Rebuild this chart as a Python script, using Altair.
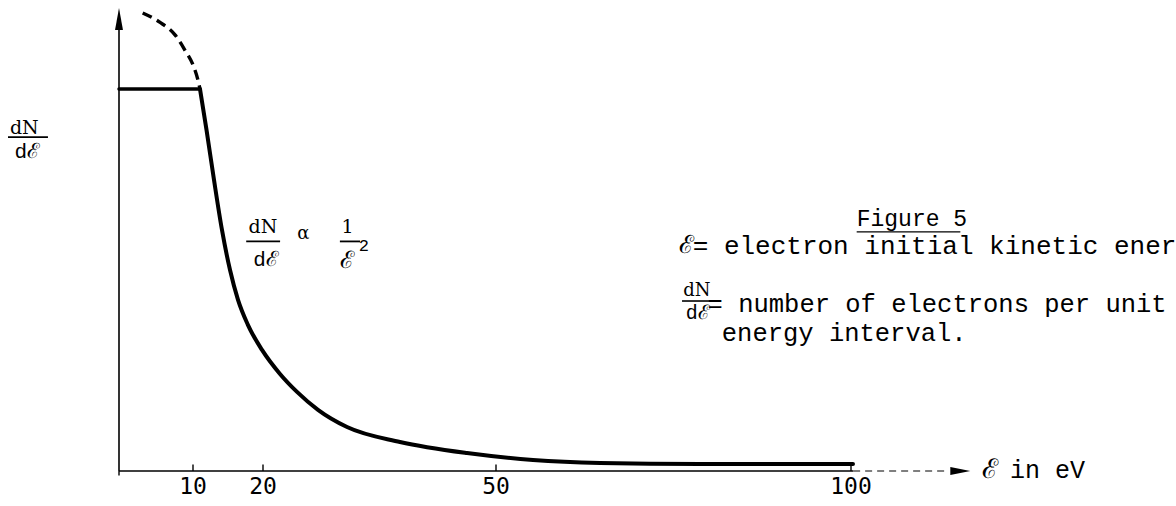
import altair as alt
import pandas as pd

# Electron energy spectrum: flat plateau up to ~11 eV, then a 1/E^2 tail
plateau_energy = [0.0, 11.0]
plateau_level = [1.0, 1.0]

tail_energy = [11.0, 11.93, 13.0, 14.14, 15.29, 16.43, 17.86, 19.86, 22.19, 24.38,
               27.08, 30.82, 37.64, 46.27, 55.21, 64.65, 78.73, 100.28]
tail_level = [1.0, 0.893, 0.762, 0.631, 0.526, 0.448, 0.382, 0.317, 0.254, 0.207,
              0.160, 0.115, 0.076, 0.047, 0.029, 0.021, 0.018, 0.018]

# 1/E^2 continued below the plateau edge (dashed)
extrap_energy = [3.2, 5.5, 7.6, 8.9, 10.0, 10.7, 11.0]
extrap_level = [1.199, 1.175, 1.141, 1.102, 1.063, 1.024, 1.0]

tick_values = [10, 20, 50, 100]
tick_labels = ["10", "20", "50", "100"]

MONO = "Liberation Mono"
GOTHIC = "DejaVu Sans Mono"
SERIF = "DejaVu Serif"
SCRIPT_E = "\u2130"

# hand-drawn energy axis: tick spacing is not perfectly uniform
X = alt.Scale(domain=[0, 10, 20, 50, 100], range=[119, 193, 263, 496, 851],
              nice=False, zero=False)
Y = alt.Scale(domain=[0, 1], range=[471, 89], nice=False, zero=False)


def xe(field="E"):
    return alt.X(f"{field}:Q", scale=X, axis=None)


def yv(field="v"):
    return alt.Y(f"{field}:Q", scale=Y, axis=None)


def line(es, vs, width, dash=None, interp="linear"):
    df = pd.DataFrame({"E": es, "v": vs})
    kw = dict(color="black", strokeWidth=width, interpolate=interp, strokeCap="round")
    if dash:
        kw["strokeDash"] = dash
        kw["strokeCap"] = "butt"
    return alt.Chart(df).mark_line(**kw).encode(x=xe(), y=yv(), order="E:Q")


def hrule(e1, e2, v, width, dash=None):
    df = pd.DataFrame({"E": [e1], "E2": [e2], "v": [v]})
    kw = dict(color="black", strokeWidth=width)
    if dash:
        kw["strokeDash"] = dash
    return alt.Chart(df).mark_rule(**kw).encode(x=xe(), x2="E2:Q", y=yv())


def vrule(e, v1, v2, width):
    df = pd.DataFrame({"E": [e], "v": [v1], "v2": [v2]})
    return alt.Chart(df).mark_rule(color="black", strokeWidth=width).encode(
        x=xe(), y=yv(), y2="v2:Q")


def label(e, v, txt, size, font=MONO, align="left", baseline="middle"):
    df = pd.DataFrame({"E": [e], "v": [v], "t": [txt]})
    return alt.Chart(df).mark_text(
        font=font, fontSize=size, align=align, baseline=baseline, color="black"
    ).encode(x=xe(), y=yv(), text="t:N")


def arrow(e, v, shape, size):
    df = pd.DataFrame({"E": [e], "v": [v]})
    return alt.Chart(df).mark_point(
        shape=shape, size=size, filled=True, color="black", opacity=1, strokeWidth=0
    ).encode(x=xe(), y=yv())


layers = []

# axes
layers.append(vrule(0, 0, 1.18, 1.6))
layers.append(arrow(0, 1.183, "M0,-1L0.36,1L-0.36,1Z", 484))
layers.append(hrule(0, 100.3, 0, 1.4))
layers.append(hrule(100.3, 113.5, 0, 1.2, dash=[7, 5]))
layers.append(arrow(115.4, 0, "M1,0L-1,0.4L-1,-0.4Z", 400))

# ticks
ticks_df = pd.DataFrame({"E": tick_values, "v": [0.0] * 4, "v2": [0.017] * 4,
                         "t": tick_labels, "vl": [-0.042] * 4})
layers.append(alt.Chart(ticks_df).mark_rule(color="black", strokeWidth=1.4).encode(
    x=xe(), y=yv(), y2="v2:Q"))
layers.append(alt.Chart(ticks_df).mark_text(
    font=GOTHIC, fontSize=23, align="center", baseline="middle", color="black"
).encode(x=xe(), y=yv("vl"), text="t:N"))
layers.append(vrule(0, 0, -0.012, 1.4))

# spectrum
layers.append(line(plateau_energy, plateau_level, 3.5))
layers.append(line(extrap_energy, extrap_level, 3.4, dash=[10, 6], interp="monotone"))
layers.append(line(tail_energy, tail_level, 4, interp="monotone"))

# y-axis label dN/dE
layers.append(label(-12.8, 0.898, "dN", 19, font=SERIF, align="center"))
layers.append(hrule(-15.0, -9.6, 0.874, 1.8))
layers.append(label(-12.4, 0.836, "d" + SCRIPT_E, 21, align="center"))

# dN/dE  alpha  1/E^2
layers.append(label(20.0, 0.640, "dN", 19, font=SERIF, align="center"))
layers.append(hrule(17.6, 22.2, 0.601, 1.8))
layers.append(label(20.4, 0.553, "d" + SCRIPT_E, 21, align="center"))
layers.append(label(25.2, 0.620, "\u03b1", 18, font=SERIF, align="center"))
layers.append(label(30.9, 0.640, "1", 19, font=SERIF, align="center"))
layers.append(hrule(29.9, 32.5, 0.601, 1.8))
layers.append(label(30.8, 0.549, SCRIPT_E, 24, align="center"))
layers.append(label(33.0, 0.590, "2", 17, align="center"))

# legend block
layers.append(label(100.8, 0.660, "Figure 5", 23))
layers.append(hrule(100.8, 115.4, 0.626, 1.4))
layers.append(label(76.8, 0.591, SCRIPT_E, 25, align="center"))
layers.append(label(77.7, 0.589, "= electron initial kinetic energy", 26))
layers.append(label(78.3, 0.470, "dN", 18, font=SERIF, align="center"))
layers.append(hrule(76.2, 80.4, 0.445, 1.6))
layers.append(label(78.4, 0.414, "d" + SCRIPT_E, 20, align="center"))
layers.append(label(79.8, 0.437, "= number of electrons per unit", 25.5))
layers.append(label(81.8, 0.361, "energy interval.", 25.5))

# axis title
layers.append(label(119.6, 0.003, SCRIPT_E, 27, align="center"))
layers.append(label(122.4, 0.003, "in eV", 25))

chart = alt.layer(*layers).properties(
    width=1176, height=506, padding=0,
    autosize=alt.AutoSizeParams(type="none"),
    background="white",
).configure_view(stroke=None)

chart.save("out.html", embed_options={"renderer": "svg", "actions": False})
